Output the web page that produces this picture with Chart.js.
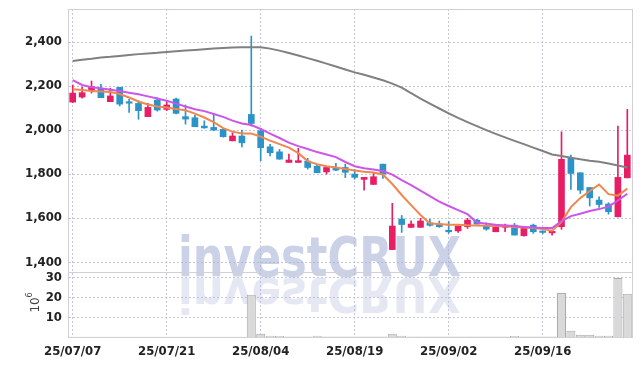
<!DOCTYPE html>
<html>
<head>
<meta charset="utf-8">
<script src="https://cdn.jsdelivr.net/npm/chart.js@4.4.1/dist/chart.umd.min.js"></script>
<style>
  body { margin: 0; background: #fff; }
  canvas { display: block; }
</style>
</head>
<body>
<canvas id="myChart" width="642" height="366"></canvas>
<script>
// trading days (yy/mm/dd)
var dates = ['25/07/07','25/07/08','25/07/09','25/07/10','25/07/11',
  '25/07/14','25/07/15','25/07/16','25/07/17','25/07/18',
  '25/07/21','25/07/22','25/07/23','25/07/24','25/07/25',
  '25/07/28','25/07/29','25/07/30','25/07/31','25/08/01',
  '25/08/04','25/08/05','25/08/06','25/08/07','25/08/08',
  '25/08/11','25/08/12','25/08/13','25/08/14','25/08/18',
  '25/08/19','25/08/20','25/08/21','25/08/22','25/08/25',
  '25/08/26','25/08/27','25/08/28','25/08/29','25/09/01',
  '25/09/02','25/09/03','25/09/04','25/09/05','25/09/08',
  '25/09/09','25/09/10','25/09/11','25/09/12','25/09/15',
  '25/09/16','25/09/17','25/09/18','25/09/19','25/09/22',
  '25/09/23','25/09/24','25/09/25','25/09/26','25/09/29'];

var open  = [2127,2150,2180,2185,2129,2194,2125,2121,2061,2136,
             2094,2141,2061,2056,2018,2012,2003,1951,1973,2071,
             1997,1924,1901,1853,1853,1859,1836,1810,1828,1830,
             1800,1776,1753,1845,1457,1596,1558,1558,1579,1573,
             1545,1542,1561,1591,1568,1538,1558,1568,1520,1568,
             1537,1533,1561,1872,1806,1739,1682,1664,1606,1783];
var high  = [2205,2195,2223,2208,2190,2194,2140,2133,2121,2147,
             2129,2145,2114,2068,2042,2076,2005,1988,2000,2427,
             2008,1935,1912,1891,1917,1872,1840,1830,1849,1845,
             1821,1785,1803,1845,1667,1612,1588,1599,1594,1587,
             1585,1564,1599,1595,1579,1558,1573,1576,1561,1573,
             1541,1545,1992,1886,1806,1739,1697,1670,2018,2094];
var low   = [2125,2145,2168,2147,2129,2110,2080,2049,2061,2086,
             2088,2073,2027,2015,2008,1997,1968,1951,1924,2018,
             1861,1883,1867,1853,1853,1823,1806,1800,1815,1784,
             1777,1727,1753,1780,1457,1535,1558,1558,1563,1558,
             1531,1535,1553,1573,1545,1538,1538,1523,1518,1531,
             1529,1522,1549,1730,1712,1655,1649,1618,1606,1783];
var close = [2168,2170,2197,2147,2155,2118,2122,2088,2103,2091,
             2114,2076,2050,2015,2010,2000,1970,1973,1942,2030,
             1920,1897,1868,1864,1861,1830,1806,1830,1818,1808,
             1785,1785,1788,1800,1564,1571,1573,1587,1567,1561,
             1538,1564,1591,1573,1550,1558,1568,1523,1561,1538,
             1535,1537,1867,1803,1727,1692,1662,1629,1785,1886];

// volume, millions of shares
var volume = [0.1,0.1,0.1,0.1,0.1,0.1,0.1,0.1,0.1,0.1,
              0.1,0.1,0.1,0.1,0.1,0.1,0.1,0.1,0.1,21.5,
              1.7,0.6,0.5,0.2,0.2,0.2,0.6,0.2,0.2,0.2,
              0.2,0.2,0.2,0.2,1.7,0.6,0.2,0.2,0.2,0.2,
              0.2,0.2,0.2,0.2,0.2,0.2,0.2,0.5,0.2,0.2,
              0.2,0.2,22.3,3.2,1.2,1.2,0.6,0.6,30,22];

// moving averages
var ma5 = [2185,2182,2177,2175,2173,2164,2148,2130,2116,2107,
           2102,2096,2090,2075,2057,2036,2009,1993,1984,1984,
           1970,1952,1936,1920,1895,1859,1845,1836,1830,1823,
           1816,1811,1807,1798,1755,1705,1659,1614,1576,1573,
           1570,1570,1568,1567,1565,1564,1563,1560,1557,1555,
           1550,1543,1582,1650,1691,1723,1752,1709,1702,1734];
var ma20 = [2227,2205,2195,2190,2183,2177,2170,2163,2153,2143,
            2133,2120,2107,2095,2086,2073,2060,2043,2030,2023,
            2005,1984,1964,1943,1927,1914,1900,1889,1877,1855,
            1836,1827,1821,1814,1798,1773,1750,1725,1700,1675,
            1655,1636,1618,1580,1575,1570,1567,1564,1560,1557,
            1555,1555,1586,1609,1620,1632,1641,1652,1680,1711];
var ma120 = [2314,2319,2324,2330,2333,2337,2341,2345,2348,2351,
             2355,2358,2361,2364,2367,2370,2373,2375,2376,2376,
             2376,2370,2361,2350,2339,2327,2315,2302,2289,2275,
             2262,2251,2239,2226,2211,2193,2168,2143,2120,2098,
             2076,2055,2036,2018,2000,1983,1967,1951,1936,1920,
             1905,1889,1882,1874,1867,1861,1856,1848,1839,1830];

var priceTicks = [1400, 1600, 1800, 2000, 2200, 2400];
var volumeTicks = [10, 20, 30];

var upColor = '#e81e64';
var downColor = '#2b93c8';
var gridColor = '#c4c6dc';
var frameColor = '#cfd0d8';
var fontList = '"Liberation Sans Narrow", "DejaVu Sans Condensed", "Roboto Condensed", "Noto Sans", sans-serif';
var tickFont = { family: fontList, size: 13, weight: 'bold' };

var candleColors = close.map(function (c, i) { return c >= open[i] ? upColor : downColor; });
var wicks = low.map(function (l, i) { return [l, high[i]]; });
var bodies = open.map(function (o, i) { return [o, close[i]]; });

// watermark + frame + 10^6 label
var extras = {
  id: 'extras',
  beforeDatasetsDraw: function (chart) {
    var ctx = chart.ctx;
    var a = chart.chartArea;
    ctx.save();
    ctx.beginPath();
    ctx.rect(a.left, a.top, a.right - a.left, a.bottom - a.top);
    ctx.clip();
    ctx.font = 'bold 56px ' + fontList;
    var w = ctx.measureText('investCRUX').width;
    ctx.translate(a.left + 110, 276);
    ctx.scale(283 / w, 1);
    ctx.fillStyle = 'rgba(168,178,214,0.6)';
    ctx.fillText('investCRUX', 0, 0);
    ctx.scale(1, -0.85);
    ctx.fillStyle = 'rgba(168,178,214,0.3)';
    ctx.fillText('investCRUX', 0, -2);
    ctx.restore();
  },
  afterDraw: function (chart) {
    var ctx = chart.ctx;
    var a = chart.chartArea;
    var yv = chart.scales.yv;
    ctx.save();
    ctx.strokeStyle = frameColor;
    ctx.lineWidth = 1;
    ctx.strokeRect(a.left + 0.5, a.top + 0.5, a.right - a.left, a.bottom - a.top);
    ctx.beginPath();
    ctx.moveTo(a.left, Math.round(yv.top) + 0.5);
    ctx.lineTo(a.right, Math.round(yv.top) + 0.5);
    ctx.stroke();
    // unit label
    ctx.translate(36, (yv.top + yv.bottom) / 2 + 8);
    ctx.rotate(-Math.PI / 2);
    ctx.fillStyle = '#444';
    ctx.font = '12px "DejaVu Sans"';
    ctx.textBaseline = 'middle';
    ctx.fillText('10', 0, 0);
    ctx.font = '8px "DejaVu Sans"';
    ctx.fillText('6', 15, -6);
    ctx.restore();
  }
};

function setTicks(list) {
  return function (s) { s.ticks = list.map(function (v) { return { value: v }; }); };
}
function fitY(s) {
  s.width = 68;
  s.paddingTop = 0;
  s.paddingBottom = 0;
}

new Chart(document.getElementById('myChart'), {
  type: 'bar',
  data: {
    labels: dates,
    datasets: [
      { type: 'line', yAxisID: 'y', data: ma120, borderColor: '#808080', borderWidth: 2, pointRadius: 0, order: 0 },
      { type: 'line', yAxisID: 'y', data: ma20, borderColor: '#cc55ea', borderWidth: 2, pointRadius: 0, order: 0 },
      { type: 'line', yAxisID: 'y', data: ma5, borderColor: '#f0874e', borderWidth: 2, pointRadius: 0, order: 0 },
      { yAxisID: 'y', data: bodies, backgroundColor: candleColors, barThickness: 6, grouped: false, minBarLength: 1.5, order: 1 },
      { yAxisID: 'y', data: wicks, backgroundColor: candleColors, barThickness: 1, grouped: false, minBarLength: 1, order: 2 },
      { yAxisID: 'yv', data: volume, backgroundColor: '#d9d9d9', borderColor: '#ababab', borderWidth: 1,
        barPercentage: 1, categoryPercentage: 0.96, grouped: false, order: 3 }
    ]
  },
  options: {
    responsive: false,
    animation: false,
    layout: { padding: { top: 9, right: 10, left: 0, bottom: 0 } },
    plugins: { legend: { display: false }, tooltip: { enabled: false } },
    scales: {
      x: {
        type: 'category',
        offset: true,
        grid: { offset: false, color: gridColor, drawTicks: false },
        border: { color: frameColor, dash: [2, 2] },
        ticks: { autoSkip: false, maxRotation: 0, padding: 7, color: '#222', font: tickFont },
        afterBuildTicks: function (s) { s.ticks = s.ticks.filter(function (t) { return t.value % 10 === 0; }); },
        afterFit: function (s) { s.height = 29; }
      },
      yv: {
        position: 'left',
        stack: 'panels',
        stackWeight: 1,
        min: 0,
        max: 33,
        grid: { color: gridColor, drawTicks: false },
        border: { color: frameColor, dash: [2, 2] },
        ticks: { autoSkip: false, padding: 6, color: '#222', font: tickFont },
        afterBuildTicks: setTicks(volumeTicks),
        afterFit: fitY
      },
      y: {
        position: 'left',
        stack: 'panels',
        stackWeight: 4.05,
        min: 1355,
        max: 2550,
        grid: { color: gridColor, drawTicks: false },
        border: { color: frameColor, dash: [2, 2] },
        ticks: { autoSkip: false, padding: 6, color: '#222', font: tickFont },
        afterBuildTicks: setTicks(priceTicks),
        afterFit: fitY
      }
    }
  },
  plugins: [extras]
});
</script>
</body>
</html>
